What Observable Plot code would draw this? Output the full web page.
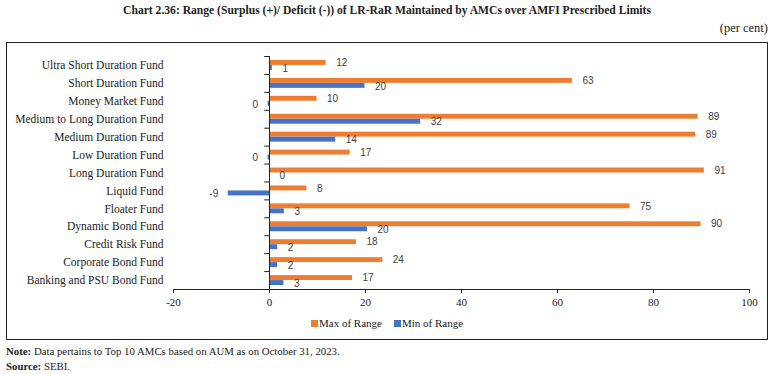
<!DOCTYPE html>
<html>
<head>
<meta charset="utf-8">
<script src="https://cdn.jsdelivr.net/npm/d3@7"></script>
<script src="https://cdn.jsdelivr.net/npm/@observablehq/plot@0.6"></script>
<style>
  html, body { margin: 0; padding: 0; background: #fff; }
  #page { position: relative; width: 774px; height: 374px; overflow: hidden; font-family: "Liberation Serif", serif; color: #222; }
  #title { position: absolute; top: 4px; left: 0; width: 774px; text-align: center; font-weight: bold; font-size: 11.6px; }
  #unit { position: absolute; top: 21px; right: 6px; font-size: 12.5px; }
  #box { position: absolute; left: 6px; top: 42px; width: 760px; height: 296px; border: 1px solid #222; }
  #chart { position: absolute; left: 0; top: 0; width: 774px; }
  #legend { position: absolute; top: 317px; left: 0; width: 774px; display: flex; justify-content: center; gap: 12px; font-size: 11px; }
  #legend span.sw { display: inline-block; width: 7px; height: 7px; margin-right: 1px; }
  #notes { position: absolute; left: 6px; top: 344px; font-size: 10.8px; line-height: 14.5px; }
</style>
</head>
<body>
<div id="page">
  <div id="title"></div>
  <div id="unit"></div>
  <div id="box"></div>
  <div id="chart"></div>
  <div id="legend"></div>
  <div id="notes"></div>
</div>
<script>
const titleText = "Chart 2.36: Range (Surplus (+)/ Deficit (-)) of LR-RaR Maintained by AMCs over AMFI Prescribed Limits";
const unitText = "(per cent)";
const categories = [
  "Ultra Short Duration Fund",
  "Short Duration Fund",
  "Money Market Fund",
  "Medium to Long Duration Fund",
  "Medium Duration Fund",
  "Low Duration Fund",
  "Long Duration Fund",
  "Liquid Fund",
  "Floater Fund",
  "Dynamic Bond Fund",
  "Credit Risk Fund",
  "Corporate Bond Fund",
  "Banking and PSU Bond Fund"
];
const maxOfRange = [11.8, 63.1, 9.9, 89.3, 88.8, 16.8, 90.6, 7.8, 75.1, 89.9, 18.1, 23.6, 17.3];
const minOfRange = [0.6, 19.9, -0.3, 31.5, 13.8, -0.3, 0, -8.6, 3.1, 20.4, 1.7, 1.7, 3.0];
const seriesNames = ["Max of Range", "Min of Range"];
const seriesColors = ["#ED7D31", "#4472C4"];
const xTicks = [-20, 0, 20, 40, 60, 80, 100];
const noteText = "Data pertains to Top 10 AMCs based on AUM as on October 31, 2023.";
const sourceText = "SEBI.";

const maxRows = categories.map((c, i) => ({cat: c, v: maxOfRange[i]}));
const minRows = categories.map((c, i) => ({cat: c, v: minOfRange[i]}));
const fmt = v => String(Math.round(v) || 0);

const labelFont = {fontFamily: "Liberation Sans, Arial, sans-serif", fontSize: 10, fill: "#404040"};

const W = 774, H = 312, MT = 56, MB = 23;
const step = (H - MT - MB) / categories.length;

const plot = Plot.plot({
  width: W,
  height: H,
  marginTop: MT,
  marginBottom: MB,
  marginLeft: 173,
  marginRight: 25,
  style: {fontFamily: "Liberation Serif, serif", fontSize: "11.5px", color: "#222", background: "transparent"},
  x: {domain: [-20, 100], ticks: xTicks, label: null},
  y: {domain: categories, padding: 0, round: false, label: null},
  marks: [
    Plot.barX(maxRows, {x1: 0, x2: "v", y: "cat", fill: seriesColors[0], insetTop: 4, insetBottom: 9}),
    Plot.barX(minRows, {x1: 0, x2: "v", y: "cat", fill: seriesColors[1], insetTop: 9, insetBottom: 4}),
    Plot.ruleX([0], {stroke: "#222", strokeWidth: 1}),
    Plot.ruleY(categories, {y: d => d, x1: -1, x2: 0, dy: -step / 2, stroke: "#222"}),
    Plot.frame({anchor: "bottom", stroke: "#222"}),
    Plot.axisX({ticks: xTicks, tickFormat: d => String(d), tickSize: 4, tickPadding: 5, fontSize: 11, label: null, stroke: "#222"}),
    Plot.axisY({tickSize: 0, tickPadding: 10, label: null, fontSize: 11.5}),
    Plot.text(maxRows, {filter: d => d.v >= 0, x: "v", y: "cat", text: d => fmt(d.v), textAnchor: "start", dx: 10, dy: -2.5, ...labelFont}),
    Plot.text(maxRows, {filter: d => d.v < 0, x: "v", y: "cat", text: d => fmt(d.v), textAnchor: "end", dx: -10, dy: -2.5, ...labelFont}),
    Plot.text(minRows, {filter: d => d.v >= 0, x: "v", y: "cat", text: d => fmt(d.v), textAnchor: "start", dx: 10, dy: 3, ...labelFont}),
    Plot.text(minRows, {filter: d => d.v < 0, x: "v", y: "cat", text: d => fmt(d.v), textAnchor: "end", dx: -10, dy: 3, ...labelFont})
  ]
});
document.getElementById("chart").appendChild(plot);

document.getElementById("title").textContent = titleText;
document.getElementById("unit").textContent = unitText;
const legend = document.getElementById("legend");
seriesNames.forEach((name, i) => {
  const item = document.createElement("div");
  const sw = document.createElement("span");
  sw.className = "sw";
  sw.style.background = seriesColors[i];
  item.appendChild(sw);
  item.appendChild(document.createTextNode(name));
  legend.appendChild(item);
});
const notes = document.getElementById("notes");
const n1 = document.createElement("div");
const b1 = document.createElement("b"); b1.textContent = "Note:";
n1.appendChild(b1); n1.appendChild(document.createTextNode(" " + noteText));
const n2 = document.createElement("div");
const b2 = document.createElement("b"); b2.textContent = "Source:";
n2.appendChild(b2); n2.appendChild(document.createTextNode(" " + sourceText));
notes.appendChild(n1); notes.appendChild(n2);
</script>
</body>
</html>
